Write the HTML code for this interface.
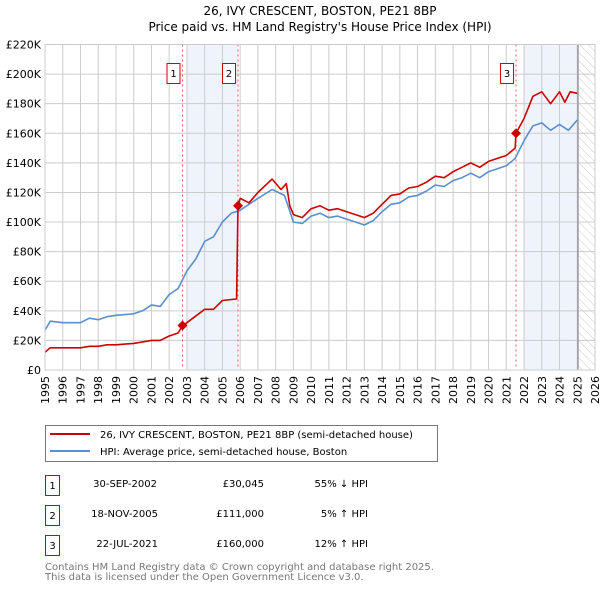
<!DOCTYPE html>
<html><head><meta charset="utf-8"><style>
body{margin:0;background:#fff;}
svg{display:block;font-family:"DejaVu Sans","Liberation Sans",sans-serif;}
</style></head><body>
<svg id="c" width="600" height="590" viewBox="0 0 600 590">
<text x="320" y="15" text-anchor="middle" font-size="12" fill="#000">26, IVY CRESCENT, BOSTON, PE21 8BP</text>
<text x="320" y="31" text-anchor="middle" font-size="12" fill="#000">Price paid vs. HM Land Registry's House Price Index (HPI)</text>
<g id="plot"></g>
<g>
<rect x="45.5" y="425.5" width="392" height="36" fill="#fff" stroke="#777"/>
<line x1="50" y1="434" x2="90" y2="434" stroke="#cc0000" stroke-width="2"/>
<text x="100" y="438" font-size="10">26, IVY CRESCENT, BOSTON, PE21 8BP (semi-detached house)</text>
<line x1="50" y1="451" x2="90" y2="451" stroke="#5b8fd0" stroke-width="2"/>
<text x="100" y="455" font-size="10">HPI: Average price, semi-detached house, Boston</text>
</g>
<g font-size="10">
<rect x="45.5" y="475.5" width="14" height="20" fill="#fff" stroke="#cc0000"/><text x="52.5" y="489" text-anchor="middle">1</text>
<text x="157" y="487" text-anchor="end">30-SEP-2002</text><text x="264" y="487" text-anchor="end">£30,045</text><text x="368" y="487" text-anchor="end">55% ↓ HPI</text>
<rect x="45.5" y="505.5" width="14" height="20" fill="#fff" stroke="#cc0000"/><text x="52.5" y="519" text-anchor="middle">2</text>
<text x="158" y="517" text-anchor="end">18-NOV-2005</text><text x="264" y="517" text-anchor="end">£111,000</text><text x="368" y="517" text-anchor="end">5% ↑ HPI</text>
<rect x="45.5" y="535.5" width="14" height="20" fill="#fff" stroke="#cc0000"/><text x="52.5" y="549" text-anchor="middle">3</text>
<text x="158" y="547" text-anchor="end">22-JUL-2021</text><text x="264" y="547" text-anchor="end">£160,000</text><text x="368" y="547" text-anchor="end">12% ↑ HPI</text>
</g>
<text x="45" y="570" font-size="10" fill="#777">Contains HM Land Registry data © Crown copyright and database right 2025.</text>
<text x="45" y="580" font-size="10" fill="#777">This data is licensed under the Open Government Licence v3.0.</text>
</svg>
<script>
const hpiYears=[1995,1995.3,1996,1997,1997.5,1998,1998.5,1999,2000,2000.5,2001,2001.5,2002,2002.5,2003,2003.5,2004,2004.5,2005,2005.5,2006,2006.5,2007,2007.8,2008.5,2009,2009.5,2010,2010.5,2011,2011.5,2012,2012.5,2013,2013.5,2014,2014.5,2015,2015.5,2016,2016.5,2017,2017.5,2018,2018.5,2019,2019.5,2020,2020.5,2021,2021.5,2022,2022.5,2023,2023.5,2024,2024.5,2025];
const hpiValues=[27,33,32,32,35,34,36,37,38,40,44,43,51,55,67,75,87,90,100,106,108,112,116,122,118,100,99,104,106,103,104,102,100,98,101,107,112,113,117,118,121,125,124,128,130,133,130,134,136,138,143,155,165,167,162,166,162,169];
const priceYears=[1995,1995.3,1996,1997,1997.5,1998,1998.5,1999,2000,2000.5,2001,2001.5,2002,2002.5,2002.75,2003,2004,2004.5,2005,2005.8,2005.88,2006,2006.5,2007,2007.8,2008.3,2008.6,2008.8,2009,2009.5,2010,2010.5,2011,2011.5,2012,2012.5,2013,2013.5,2014,2014.5,2015,2015.5,2016,2016.5,2017,2017.5,2018,2018.5,2019,2019.5,2020,2020.5,2021,2021.5,2021.55,2022,2022.5,2023,2023.5,2024,2024.3,2024.6,2025];
const priceValues=[12,15,15,15,16,16,17,17,18,19,20,20,23,25,30,32,41,41,47,48,111,116,113,120,129,122,126,111,105,103,109,111,108,109,107,105,103,106,112,118,119,123,124,127,131,130,134,137,140,137,141,143,145,150,160,170,185,188,180,188,181,188,187];
const sales=[{n:'1',y:2002.75,v:30.045},{n:'2',y:2005.88,v:111},{n:'3',y:2021.55,v:160}];
const yTicks=[0,20,40,60,80,100,120,140,160,180,200,220];
const xTicks=[1995,1996,1997,1998,1999,2000,2001,2002,2003,2004,2005,2006,2007,2008,2009,2010,2011,2012,2013,2014,2015,2016,2017,2018,2019,2020,2021,2022,2023,2024,2025,2026];
const X0=45,X1=595,Y0=370,Y1=44.5;
const xs=y=>X0+(y-1995)/(2026-1995)*(X1-X0);
const ys=v=>Y0-v/220*(Y0-Y1);
const NS='http://www.w3.org/2000/svg';
const g=document.getElementById('plot');
function mk(t,a){const e=document.createElementNS(NS,t);for(const k in a)e.setAttribute(k,a[k]);g.appendChild(e);return e;}
// shades
let e=mk('rect',{x:xs(2003),y:Y1,width:xs(2005.88)-xs(2003),height:Y0-Y1,fill:'#eef3fc'});


e=mk('rect',{x:xs(2022),y:Y1,width:xs(2025.04)-xs(2022),height:Y0-Y1,fill:'#eef3fc'});


// hatch
const defs=document.createElementNS(NS,'defs');defs.innerHTML='<pattern id="h" width="6" height="6" patternUnits="userSpaceOnUse" patternTransform="rotate(-45)"><line x1="0" y1="0" x2="0" y2="6" stroke="#ccc" stroke-width="1"/></pattern>';g.appendChild(defs);
e=mk('rect',{x:xs(2025.04),y:Y1,width:X1-xs(2025.04),height:Y0-Y1,fill:'url(#h)'});


// grid
xTicks.forEach(t=>{const x=xs(t);
 const l=mk('line',{x1:x,y1:Y1,x2:x,y2:Y0,stroke:'#cccccc','stroke-width':1});
 
 
 const tx=mk('text',{x:0,y:0,'font-size':11,'text-anchor':'end',transform:`translate(${x+4},${Y0+6}) rotate(-90)`});
 tx.textContent=t;
 
 
});
yTicks.forEach(t=>{const y=ys(t);
 const l=mk('line',{x1:X0,y1:y,x2:X1,y2:y,stroke:'#cccccc','stroke-width':1});
 
 
 const tx=mk('text',{x:X0-4,y:y+4,'font-size':11,'text-anchor':'end'});
 tx.textContent=t===0?'£0':'£'+t+'K';
 
 
});
e=mk('line',{x1:xs(2025.04),y1:Y1,x2:xs(2025.04),y2:Y0,stroke:'#999','stroke-width':1.5});


// sale dashed lines
sales.forEach(s=>{const l=mk('line',{x1:xs(s.y),y1:Y1,x2:xs(s.y),y2:Y0,stroke:'#e06060','stroke-width':1,'stroke-dasharray':'2,3'});
 
 
});
function path(xa,va,col,name){const d=xa.map((y,i)=>(i?'L':'M')+xs(y).toFixed(1)+','+ys(va[i]).toFixed(1)).join('');
 const p=mk('path',{d:d,fill:'none',stroke:col,'stroke-width':1.6,'stroke-linejoin':'round'});
 
 }
path(hpiYears,hpiValues,'#5b8fd0','hpi-line');
path(priceYears,priceValues,'#cc0000','price-paid-line');
sales.forEach(s=>{const x=xs(s.y),y=ys(s.v);
 const d=mk('path',{d:`M${x},${y-5}L${x+5},${y}L${x},${y+5}L${x-5},${y}Z`,fill:'#cc0000'});
 
 
 const r=mk('rect',{x:x-15.5,y:63.5,width:13,height:20,fill:'#fff',stroke:'#cc0000'});
 
 
 const t=mk('text',{x:x-9,y:77,'font-size':10,'text-anchor':'middle'});t.textContent=s.n;
 
 
});
const fr=mk('rect',{x:X0,y:Y1,width:X1-X0,height:Y0-Y1,fill:'none',stroke:'#ccc'});


</script>
</body></html>
